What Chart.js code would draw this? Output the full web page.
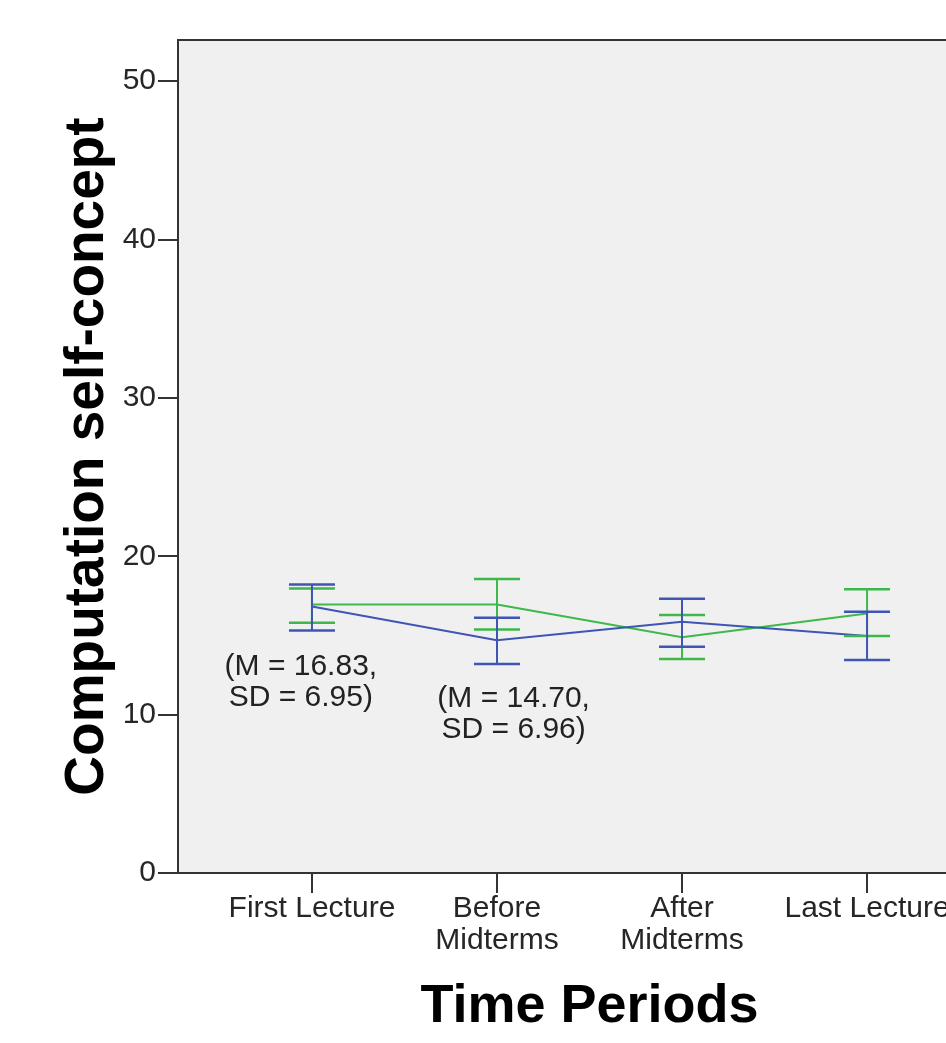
<!DOCTYPE html>
<html>
<head>
<meta charset="utf-8">
<script src="https://cdn.jsdelivr.net/npm/chart.js@4.4.0/dist/chart.umd.min.js"></script>
<style>
body { margin: 0; overflow: hidden; background: #fff; }
#wrap { width: 1003px; height: 1043px; }
</style>
</head>
<body>
<div id="wrap"><canvas id="selfConcept"></canvas></div>
<script>
// time periods (x categories)
var periods = [["First Lecture"], ["Before", "Midterms"], ["After", "Midterms"], ["Last Lecture"]];

// blue group: mean and error bar ends
var blueMean = [16.83, 14.70, 15.87, 14.96];
var blueHigh = [18.22, 16.12, 17.32, 16.50];
var blueLow  = [15.32, 13.19, 14.29, 13.45];

// green group: mean and error bar ends
var greenMean = [16.96, 16.96, 14.88, 16.39];
var greenHigh = [17.97, 18.56, 16.29, 17.91];
var greenLow  = [15.80, 15.38, 13.51, 14.96];

var yTicks = [0, 10, 20, 30, 40, 50];

// notes written in the plot
var noteText = [["(M = 16.83,", "SD = 6.95)"], ["(M = 14.70,", "SD = 6.96)"]];
var noteX = [-0.06, 1.09];
var noteY = [12.1, 10.07];

var blueColor = '#3f55b3';
var greenColor = '#3cb94a';

function toPoints(arr) {
    return arr.map(function (v, i) { return { x: i, y: v }; });
}

var plotBox = {
    id: 'plotBox',
    beforeDraw: function (chart) {
        var a = chart.chartArea, c = chart.ctx;
        c.save();
        c.fillStyle = '#f0f0f0';
        c.fillRect(a.left, a.top, a.right - a.left, a.bottom - a.top);
        c.restore();
    },
    afterDraw: function (chart) {
        var a = chart.chartArea, c = chart.ctx;
        c.save();
        c.strokeStyle = '#333';
        c.lineWidth = 2;
        c.strokeRect(a.left, a.top, a.right - a.left, a.bottom - a.top);
        c.restore();
    }
};

var errorBars = {
    id: 'errorBars',
    afterDatasetsDraw: function (chart) {
        var c = chart.ctx, xs = chart.scales.x, ys = chart.scales.y;
        var sets = chart.data.datasets.slice().reverse();
        c.save();
        sets.forEach(function (ds) {
            c.strokeStyle = ds.borderColor;
            ds.errLow.forEach(function (lo, i) {
                var x = xs.getPixelForValue(i);
                var y1 = ys.getPixelForValue(lo);
                var y2 = ys.getPixelForValue(ds.errHigh[i]);
                c.lineWidth = 2;
                c.beginPath();
                c.moveTo(x, y1); c.lineTo(x, y2);
                c.stroke();
                c.lineWidth = 2.5;
                c.beginPath();
                c.moveTo(x - 23, y1); c.lineTo(x + 23, y1);
                c.moveTo(x - 23, y2); c.lineTo(x + 23, y2);
                c.stroke();
            });
        });
        c.restore();
    }
};

var notes = {
    id: 'notes',
    afterDraw: function (chart) {
        var c = chart.ctx, xs = chart.scales.x, ys = chart.scales.y;
        c.save();
        c.font = '30px "Liberation Sans", Arial, sans-serif';
        c.fillStyle = '#222';
        c.textAlign = 'center';
        c.textBaseline = 'middle';
        noteText.forEach(function (lines, k) {
            var x = xs.getPixelForValue(noteX[k]);
            var y = ys.getPixelForValue(noteY[k]);
            c.fillText(lines[0], x, y - 15);
            c.fillText(lines[1], x, y + 16);
        });
        c.restore();
    }
};

var ctxSelf = document.getElementById('selfConcept').getContext('2d');

var selfChart = new Chart(ctxSelf, {
    type: 'line',
    data: {
        datasets: [
            {
                label: "Group 1",
                data: toPoints(blueMean),
                errLow: blueLow,
                errHigh: blueHigh,
                borderColor: blueColor,
                borderWidth: 2,
                pointRadius: 0,
                tension: 0
            },
            {
                label: "Group 2",
                data: toPoints(greenMean),
                errLow: greenLow,
                errHigh: greenHigh,
                borderColor: greenColor,
                borderWidth: 2,
                pointRadius: 0,
                tension: 0
            }
        ]
    },
    options: {
        responsive: true,
        maintainAspectRatio: false,
        animation: false,
        layout: { padding: { top: 40, right: 2, left: 0, bottom: 0 } },
        plugins: {
            legend: { display: false },
            tooltip: { enabled: false }
        },
        scales: {
            x: {
                type: 'linear',
                min: -0.724,
                max: 3.724,
                afterBuildTicks: function (s) {
                    s.ticks = periods.map(function (p, i) { return { value: i }; });
                },
                afterFit: function (s) { s.height = 170; },
                ticks: {
                    autoSkip: false,
                    maxRotation: 0,
                    padding: 0,
                    color: '#262626',
                    font: { family: '"Liberation Sans", Arial, sans-serif', size: 30, lineHeight: 1.07 },
                    callback: function (v) { return periods[v]; }
                },
                grid: { drawOnChartArea: false, tickLength: 20, color: '#333', lineWidth: 2 },
                border: { display: false },
                title: {
                    display: true,
                    text: 'Time Periods',
                    color: '#000',
                    padding: { top: 0, bottom: 3 },
                    font: { family: '"Liberation Sans", Arial, sans-serif', size: 54, weight: 'bold' }
                }
            },
            y: {
                min: 0,
                max: 52.6,
                afterBuildTicks: function (s) {
                    s.ticks = yTicks.map(function (v) { return { value: v }; });
                },
                afterFit: function (s) { s.width = 178; },
                ticks: {
                    padding: 2,
                    color: '#262626',
                    font: { family: '"Liberation Sans", Arial, sans-serif', size: 30 }
                },
                grid: { drawOnChartArea: false, tickLength: 20, color: '#333', lineWidth: 2 },
                border: { display: false },
                title: {
                    display: true,
                    text: 'Computation self-concept',
                    color: '#000',
                    padding: { top: 55, bottom: 0 },
                    font: { family: '"Liberation Sans", Arial, sans-serif', size: 55, weight: 'bold' }
                }
            }
        }
    },
    plugins: [plotBox, errorBars, notes]
});
</script>
</body>
</html>
